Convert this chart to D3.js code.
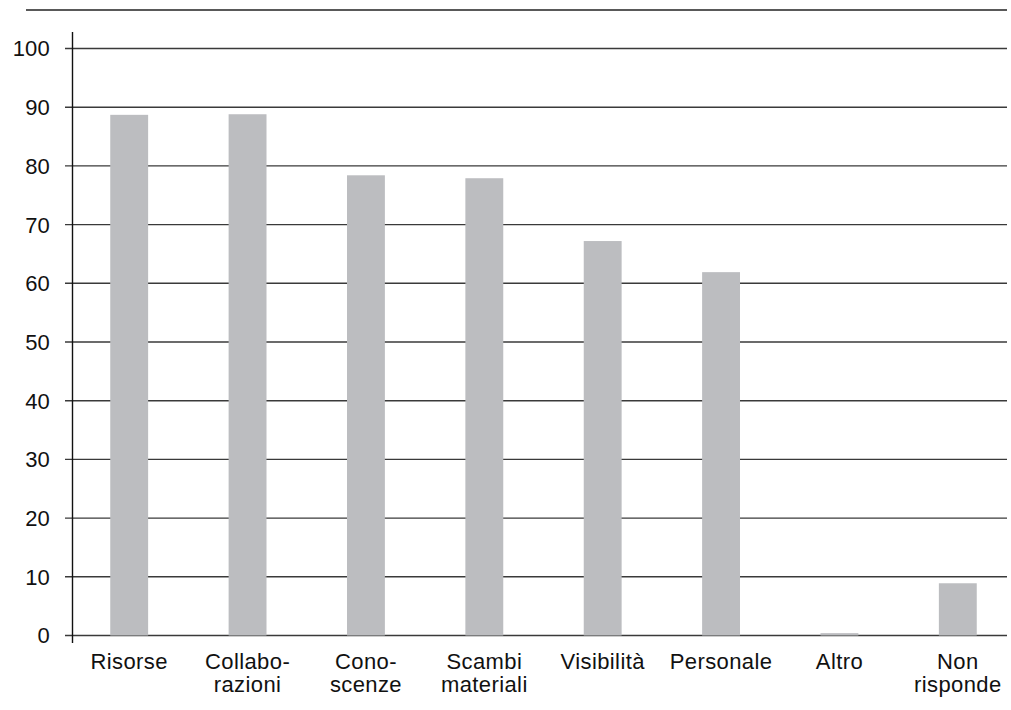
<!DOCTYPE html>
<html>
<head>
<meta charset="utf-8">
<script src="https://cdn.jsdelivr.net/npm/d3@7"></script>
<style>
  body { margin: 0; background: #fff; }
  text { font-family: "Liberation Sans", Arial, Helvetica, sans-serif; fill: #111; }
</style>
</head>
<body>
<div id="chart"></div>
<script>
// category labels (split on two lines where the original does)
var categories = ["Risorse", "Collaborazioni", "Conoscenze", "Scambi materiali",
  "Visibilità", "Personale", "Altro", "Non risponde"];
var labelLines = [["Risorse"], ["Collabo-", "razioni"], ["Cono-", "scenze"], ["Scambi", "materiali"],
  ["Visibilità"], ["Personale"], ["Altro"], ["Non", "risponde"]];
var values = [88.7, 88.8, 78.4, 77.9, 67.2, 61.9, 0.4, 8.9];
var yTicks = [0, 10, 20, 30, 40, 50, 60, 70, 80, 90, 100];

var width = 1011, height = 710;

var svg = d3.select("#chart").append("svg")
  .attr("width", width)
  .attr("height", height);

// scales
var x = d3.scaleBand()
  .domain(categories)
  .range([70, 1017])
  .paddingInner(0.68)
  .paddingOuter(0.34);

var y = d3.scaleLinear()
  .domain([0, 100])
  .range([635.5, 48.5]);

// top rule
svg.append("line")
  .attr("x1", 26).attr("x2", 1007)
  .attr("y1", 10).attr("y2", 10)
  .attr("stroke", "#222").attr("stroke-width", 1.3);

// gridlines + tick marks
svg.append("g").selectAll("line")
  .data(yTicks)
  .enter().append("line")
  .attr("x1", 65).attr("x2", 1007)
  .attr("y1", function (d) { return y(d); })
  .attr("y2", function (d) { return y(d); })
  .attr("stroke", "#3a3a3a")
  .attr("stroke-width", 1.4);

// bars
svg.append("g").selectAll("rect")
  .data(values)
  .enter().append("rect")
  .attr("x", function (d, i) { return x(categories[i]); })
  .attr("width", x.bandwidth())
  .attr("y", function (d) { return y(d); })
  .attr("height", function (d) { return y(0) - y(d); })
  .attr("fill", "#bcbdc0");

// y axis line
svg.append("line")
  .attr("x1", 72.5).attr("x2", 72.5)
  .attr("y1", 32).attr("y2", 643)
  .attr("stroke", "#111").attr("stroke-width", 1.4);

// y tick labels
svg.append("g").selectAll("text")
  .data(yTicks)
  .enter().append("text")
  .attr("x", 50)
  .attr("y", function (d) { return y(d); })
  .attr("dy", "0.36em")
  .attr("text-anchor", "end")
  .style("font-size", "22px")
  .style("letter-spacing", "0.2px")
  .text(function (d) { return d; });

// category labels
var lab = svg.append("g").selectAll("text")
  .data(labelLines)
  .enter().append("text")
  .attr("text-anchor", "middle")
  .attr("x", function (d, i) { return x(categories[i]) + x.bandwidth() / 2; })
  .attr("y", 669)
  .style("font-size", "22px")
  .style("letter-spacing", "0.4px");

lab.selectAll("tspan")
  .data(function (d) { return d; })
  .enter().append("tspan")
  .attr("x", function () { return d3.select(this.parentNode).attr("x"); })
  .attr("dy", function (d, i) { return i === 0 ? 0 : 23; })
  .text(function (d) { return d; });
</script>
</body>
</html>
